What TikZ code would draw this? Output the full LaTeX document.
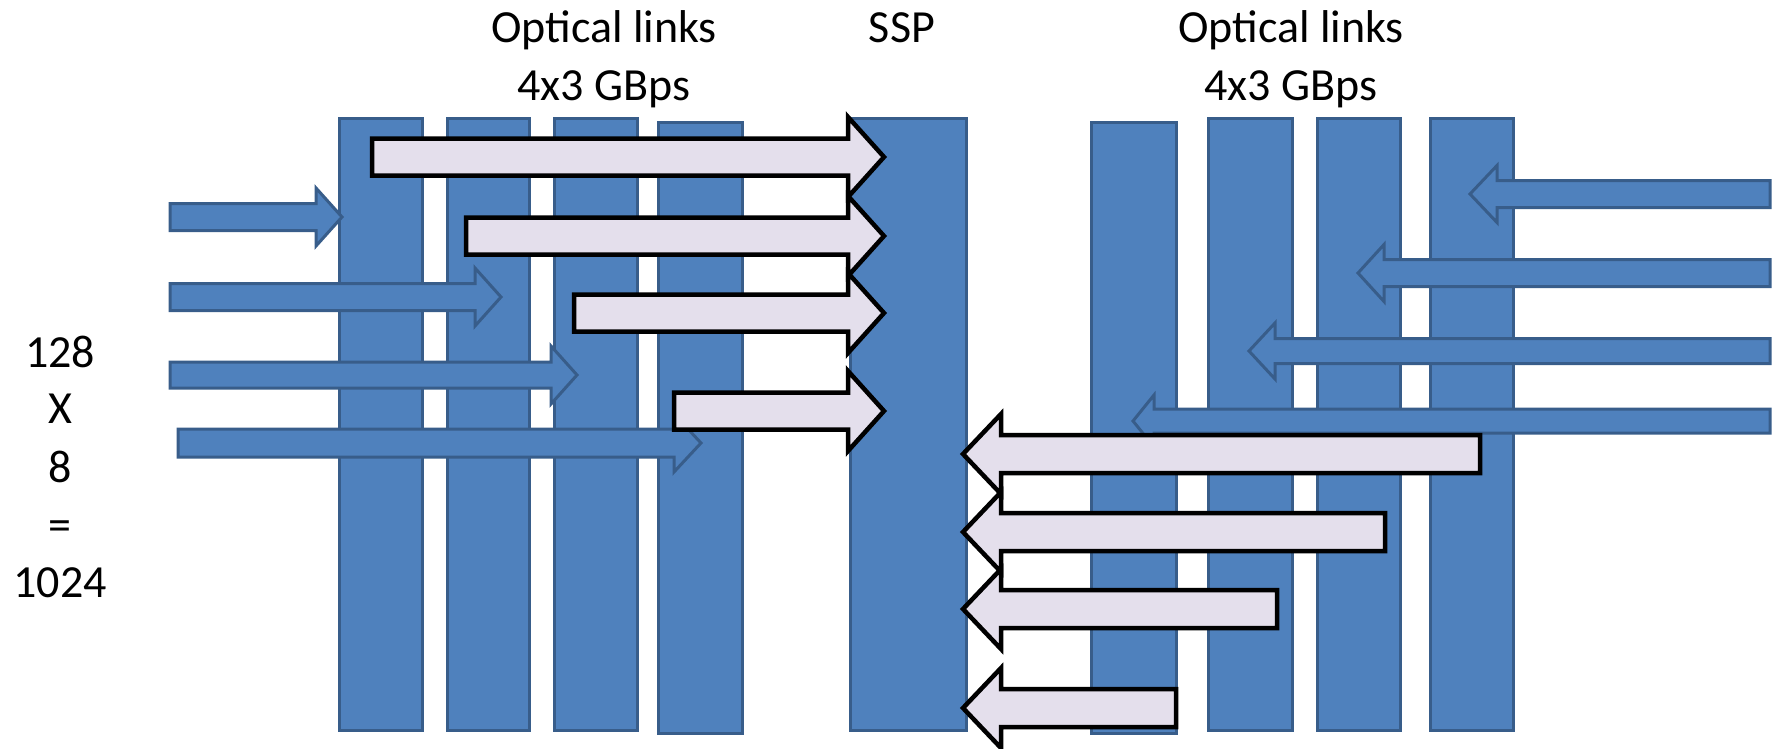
\documentclass[tikz,border=0pt]{standalone}
\usepackage{fontspec}
\setmainfont{Carlito}
\definecolor{barfill}{HTML}{4F81BD}
\definecolor{barline}{HTML}{385D8A}
\definecolor{lav}{HTML}{E4DFEC}
\newcommand{\harrow}[7]{% style, x0, xb, xt, yc, shaft half, head half
  \draw[#1] (#2,#5-#6) -- (#3,#5-#6) -- (#3,#5-#7) -- (#4,#5) -- (#3,#5+#7) -- (#3,#5+#6) -- (#2,#5+#6) -- cycle;}
\tikzset{
  bar/.style={fill=barfill, draw=barline, line width=3pt},
  bluearr/.style={fill=barfill, draw=barline, line width=3pt, line join=miter},
  lavarr/.style={fill=lav, draw=black, line width=4.5pt, line join=miter},
  lbl/.style={inner sep=0pt, anchor=base, font=\fontsize{46}{55}\selectfont}
}
\begin{document}
\begin{tikzpicture}[x=1pt,y=-1pt]
\useasboundingbox (0,0) rectangle (1775,748);
% bars
\draw[bar] (339,118) rectangle (422,730);
\draw[bar] (447,118) rectangle (529,730);
\draw[bar] (554,118) rectangle (637,730);
\draw[bar] (658,122) rectangle (742,733);
\draw[bar] (850,118) rectangle (966,730);
\draw[bar] (1091,122) rectangle (1176,733);
\draw[bar] (1208,118) rectangle (1292,730);
\draw[bar] (1317,118) rectangle (1400,730);
\draw[bar] (1430,118) rectangle (1513,730);
% blue input arrows (left)
\harrow{bluearr}{170}{316}{342}{217}{13.5}{29}
\harrow{bluearr}{170}{475}{501}{297}{13.5}{29}
\harrow{bluearr}{170}{551}{577}{375}{13}{29}
\harrow{bluearr}{178}{674}{701}{443}{14}{29}
% blue input arrows (right)
\harrow{bluearr}{1770}{1497}{1470}{194}{13.5}{28.5}
\harrow{bluearr}{1770}{1384}{1358}{273}{13.5}{28.5}
\harrow{bluearr}{1770}{1275}{1249}{351}{12.5}{28}
\harrow{bluearr}{1770}{1154}{1133}{421}{12}{26}
% lavender arrows to SSP
\harrow{lavarr}{372}{848}{884}{157}{18.5}{40}
\harrow{lavarr}{466}{848}{884}{236}{18.5}{40}
\harrow{lavarr}{574}{848}{884}{313}{18.5}{40}
\harrow{lavarr}{674}{848}{884}{411}{18.5}{40}
% lavender arrows from right
\harrow{lavarr}{1480}{1001}{963}{454}{19}{40}
\harrow{lavarr}{1385}{1001}{963}{532}{19}{40}
\harrow{lavarr}{1277}{1001}{963}{609}{19}{40}
\harrow{lavarr}{1176}{1001}{963}{708}{19}{40}
% labels
\node[lbl] (ol1) at (604,42) {Optical links};
\node[lbl] (ol2) at (604,100) {4x3 GBps};
\node[lbl] (ssp) at (902,42) {SSP};
\node[lbl] (or1) at (1291,42) {Optical links};
\node[lbl] (or2) at (1291,100) {4x3 GBps};
\node[lbl] (n1) at (60,367) {128};
\node[lbl] (n2) at (60,423) {X};
\node[lbl] (n3) at (60,482) {8};
\node[lbl] (n4) at (60,540) {=};
\node[lbl] (n5) at (60,597) {1024};
\end{tikzpicture}
\end{document}
